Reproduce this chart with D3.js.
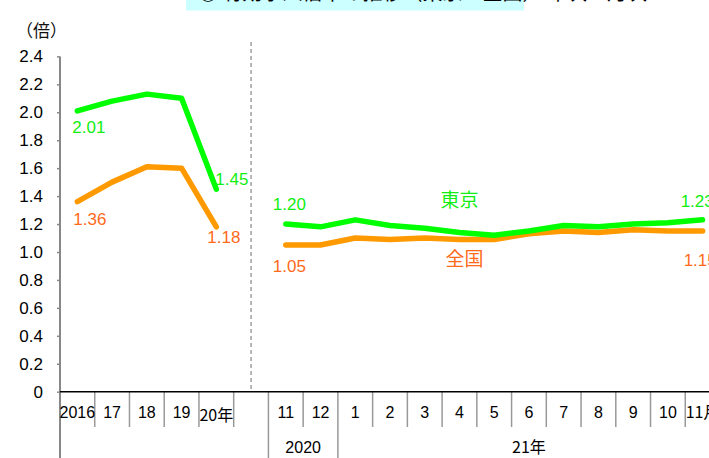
<!DOCTYPE html>
<html>
<head>
<meta charset="utf-8">
<script src="https://cdn.jsdelivr.net/npm/d3@7"></script>
<style>
  body { margin: 0; background: #fff; }
  svg { display: block; font-family: "Liberation Sans", Arial, "Noto Sans CJK JP", sans-serif; }
</style>
</head>
<body>
<svg id="chart" width="709" height="458"></svg>
<script>
// annual values (2016-2020)
var yearLabels = ["2016", "17", "18", "19", "20年"];
var tokyoYear = [2.01, 2.08, 2.13, 2.10, 1.45];
var zenkokuYear = [1.36, 1.50, 1.61, 1.60, 1.18];

// monthly values (2020/11 - 2021/11)
var monthLabels = ["11", "12", "1", "2", "3", "4", "5", "6", "7", "8", "9", "10", "11月"];
var tokyoMonth = [1.20, 1.18, 1.23, 1.19, 1.17, 1.14, 1.12, 1.15, 1.19, 1.18, 1.20, 1.21, 1.23];
var zenkokuMonth = [1.05, 1.05, 1.10, 1.09, 1.10, 1.09, 1.09, 1.13, 1.15, 1.14, 1.16, 1.15, 1.15];

var yTicks = [0, 0.2, 0.4, 0.6, 0.8, 1.0, 1.2, 1.4, 1.6, 1.8, 2.0, 2.2, 2.4];
var groupLabels = ["2020", "21年"];

var green = "#00ff00", greenText = "#11ee11";
var orange = "#ff9900", orangeText = "#ff6a1a";

// slots: 5 years, 1 gap, 13 months
var slots = yearLabels.concat([""]).concat(monthLabels);
var slotIdx = d3.range(slots.length);

var svg = d3.select("#chart");

var x = d3.scaleBand().domain(slotIdx).range([60, 720]).padding(0);
var y = d3.scaleLinear().domain([0, 2.4]).range([391.7, 56.4]);
var cx = function (i) { return x(i) + x.bandwidth() / 2; };

// title box (cut off at the top)
svg.append("rect")
    .attr("x", 186).attr("y", -20)
    .attr("width", 338).attr("height", 30.5)
    .attr("fill", "#ccffff");
svg.append("text")
    .attr("x", 198).attr("y", 0)
    .attr("font-size", 20)
    .attr("font-family", "Noto Sans CJK JP")
    .attr("fill", "#000")
    .text("◎ 有効求人倍率の推移（東京・全国） 年次・月次");

// unit
svg.append("text")
    .attr("x", 16).attr("y", 37)
    .attr("font-size", 17)
    .attr("font-family", "Noto Sans CJK JP")
    .attr("fill", "#111")
    .text("（倍）");

// y axis
var yAxis = svg.append("g")
    .attr("transform", "translate(60,0)")
    .call(d3.axisLeft(y).tickValues(yTicks).tickSize(3).tickPadding(14)
        .tickFormat(function (d) { return d === 0 ? "0" : d3.format(".1f")(d); }));
yAxis.select(".domain").remove();
yAxis.selectAll(".tick line").attr("stroke", "#888").attr("stroke-width", 1.5);
yAxis.selectAll(".tick text").attr("font-size", 17).attr("fill", "#000")
    .attr("font-family", "Liberation Sans, Arial, sans-serif");
svg.append("line")
    .attr("x1", 60).attr("x2", 60)
    .attr("y1", y(2.4)).attr("y2", 458)
    .attr("stroke", "#888").attr("stroke-width", 2);

// divider between years and months
svg.append("line")
    .attr("x1", cx(5)).attr("x2", cx(5))
    .attr("y1", 42).attr("y2", y(0))
    .attr("stroke", "#888").attr("stroke-width", 1.2)
    .attr("stroke-dasharray", "4,3");

// category separators
var bounds = slotIdx.slice(1).concat([slots.length]);
svg.selectAll(".sep").data(bounds).enter().append("line")
    .attr("class", "sep")
    .attr("x1", function (i) { return i < slots.length ? x(i) : 720; })
    .attr("x2", function (i) { return i < slots.length ? x(i) : 720; })
    .attr("y1", y(0))
    .attr("y2", function (i) { return (i === 6 || i === 8) ? 458 : 427; })
    .attr("stroke", "#999").attr("stroke-width", 1.5);

// x baseline
svg.append("line")
    .attr("x1", 60).attr("x2", 709)
    .attr("y1", y(0)).attr("y2", y(0))
    .attr("stroke", "#000").attr("stroke-width", 1.5);

// tick labels
svg.selectAll(".xl").data(slotIdx).enter().append("text")
    .attr("class", "xl")
    .attr("x", function (i) { return cx(i); })
    .attr("y", function (i) { return i === 4 ? 421 : 418; })
    .attr("text-anchor", "middle")
    .attr("font-size", 16)
    .attr("font-family", function (i) { return /年|月/.test(slots[i]) ? "Noto Sans CJK JP" : "Liberation Sans"; })
    .attr("fill", "#000")
    .text(function (i) { return slots[i]; });

// group labels
svg.append("text")
    .attr("x", (x(6) + x(8)) / 2).attr("y", 453)
    .attr("text-anchor", "middle").attr("font-size", 16).attr("fill", "#000")
    .text(groupLabels[0]);
svg.append("text")
    .attr("x", (x(8) + 720) / 2).attr("y", 453)
    .attr("text-anchor", "middle").attr("font-size", 16).attr("fill", "#000")
    .attr("font-family", "Noto Sans CJK JP")
    .text(groupLabels[1]);

// lines
var line = d3.line()
    .x(function (d) { return cx(d.i); })
    .y(function (d) { return y(d.v); });

function pts(vals, start) {
    return vals.map(function (v, k) { return { i: start + k, v: v }; });
}

var series = [
    { data: pts(tokyoYear, 0), color: green },
    { data: pts(zenkokuYear, 0), color: orange },
    { data: pts(zenkokuMonth, 6), color: orange },
    { data: pts(tokyoMonth, 6), color: green }
];
svg.selectAll(".series").data(series).enter().append("path")
    .attr("class", "series")
    .attr("d", function (s) { return line(s.data); })
    .attr("fill", "none")
    .attr("stroke", function (s) { return s.color; })
    .attr("stroke-width", 5.5)
    .attr("stroke-linejoin", "round")
    .attr("stroke-linecap", "round");

// value labels
var labels = [
    { i: 0, v: tokyoYear[0], c: greenText, dx: -5, dy: 22 },
    { i: 0, v: zenkokuYear[0], c: orangeText, dx: -4, dy: 23 },
    { i: 4, v: tokyoYear[4], c: greenText, dx: -1, dy: -4 },
    { i: 4, v: zenkokuYear[4], c: orangeText, dx: -9, dy: 16 },
    { i: 6, v: tokyoMonth[0], c: greenText, dx: -13, dy: -14 },
    { i: 6, v: zenkokuMonth[0], c: orangeText, dx: -13, dy: 27 },
    { i: 18, v: tokyoMonth[12], c: greenText, dx: -22, dy: -13 },
    { i: 18, v: zenkokuMonth[12], c: orangeText, dx: -19, dy: 35 }
];
svg.selectAll(".vl").data(labels).enter().append("text")
    .attr("class", "vl")
    .attr("x", function (d) { return cx(d.i) + d.dx; })
    .attr("y", function (d) { return y(d.v) + d.dy; })
    .attr("font-size", 17)
    .attr("fill", function (d) { return d.c; })
    .text(function (d) { return d3.format(".2f")(d.v); });

// series names
svg.append("text")
    .attr("x", cx(11)).attr("y", 207)
    .attr("text-anchor", "middle").attr("font-size", 19)
    .attr("font-family", "Noto Sans CJK JP")
    .attr("fill", greenText).text("東京");
svg.append("text")
    .attr("x", cx(11) + 5).attr("y", 266)
    .attr("text-anchor", "middle").attr("font-size", 19)
    .attr("font-family", "Noto Sans CJK JP")
    .attr("fill", orangeText).text("全国");
</script>
</body>
</html>
